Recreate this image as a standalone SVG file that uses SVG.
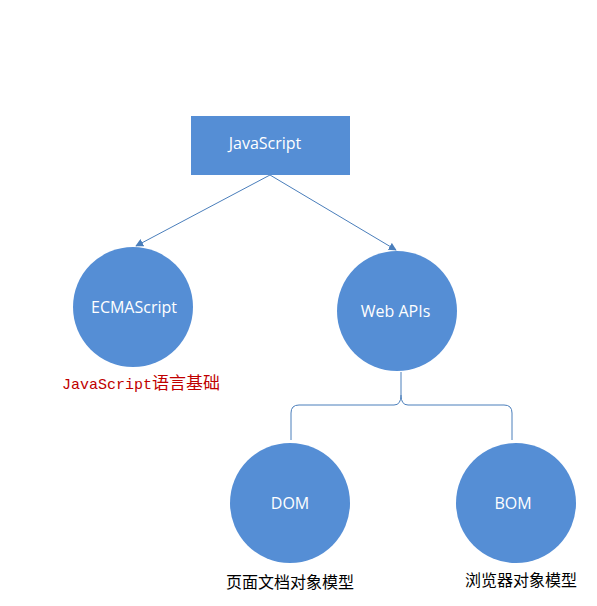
<svg xmlns="http://www.w3.org/2000/svg" width="597" height="606" viewBox="0 0 597 606">
<style>
.node{fill:#558ED5;}
.lbl{fill:#fff;font-family:"Open Sans","Liberation Sans",sans-serif;font-size:16px;text-anchor:middle;}
.edge{stroke:#4A7EBB;stroke-width:1;fill:none;}
.cap{font-family:"Noto Sans CJK SC",sans-serif;font-size:16px;fill:#000;}
</style>
<defs>
<marker id="arr" viewBox="0 0 10 10" refX="9" refY="5" markerWidth="8" markerHeight="8" orient="auto" markerUnits="userSpaceOnUse">
<path d="M0,0 L10,5 L0,10 z" fill="#4A7EBB"/>
</marker>
</defs>
<rect width="597" height="606" fill="#fff"/>
<g id="connectors">
<line class="edge" x1="270" y1="175" x2="136" y2="246" marker-end="url(#arr)"/>
<line class="edge" x1="270" y1="175" x2="396" y2="250" marker-end="url(#arr)"/>
<path class="edge" d="M291,440 L291,413 Q291,405 299,405 L394,405 Q401,405 401,395 L401,372 M401,395 Q401,405 408,405 L504,405 Q512,405 512,413 L512,440"/>
</g>
<g id="javascript">
<rect class="node" x="191" y="116" width="159" height="59"/>
<text class="lbl" x="265" y="149">JavaScript</text>
</g>
<g id="ecmascript">
<circle class="node" cx="133" cy="307" r="60"/>
<text class="lbl" x="134" y="313">ECMAScript</text>
<text x="62" y="389" fill="#C00000"><tspan font-family="'Liberation Mono',monospace" font-size="15">JavaScript</tspan><tspan font-family="'Noto Sans CJK SC',sans-serif" font-size="17">语言基础</tspan></text>
</g>
<g id="webapis">
<circle class="node" cx="397" cy="311" r="60"/>
<text class="lbl" x="395.5" y="317">Web APIs</text>
</g>
<g id="dom">
<circle class="node" cx="290" cy="503" r="60"/>
<text class="lbl" x="290" y="509">DOM</text>
<text class="cap" x="226" y="588">页面文档对象模型</text>
</g>
<g id="bom">
<circle class="node" cx="516" cy="503" r="60"/>
<text class="lbl" x="513" y="509">BOM</text>
<text class="cap" x="465" y="586">浏览器对象模型</text>
</g>
</svg>
